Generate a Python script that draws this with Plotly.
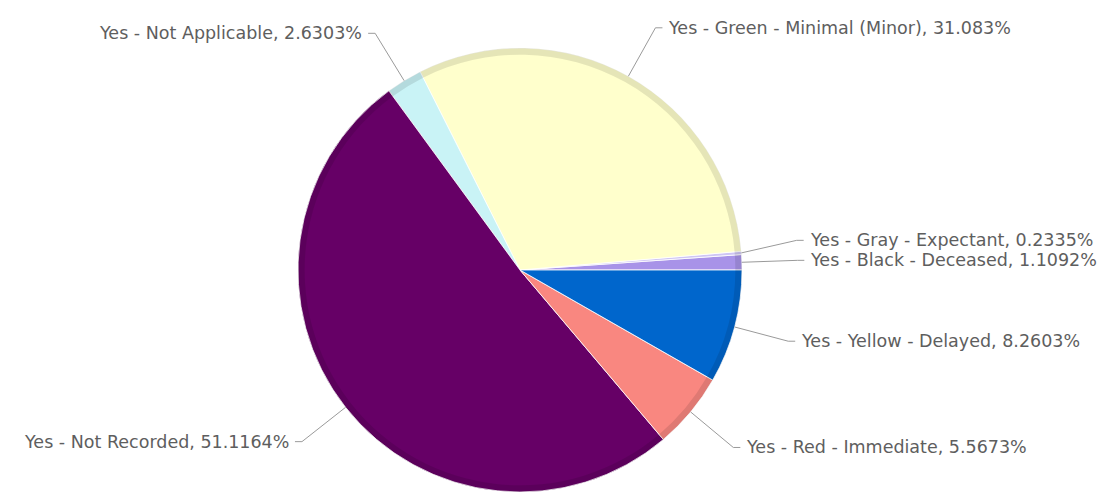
import math
import plotly.graph_objects as go

# ---- data ----
categories = [
    "Yes - Black - Deceased",
    "Yes - Gray - Expectant",
    "Yes - Green - Minimal (Minor)",
    "Yes - Not Applicable",
    "Yes - Not Recorded",
    "Yes - Red - Immediate",
    "Yes - Yellow - Delayed",
]
percent_labels = ["1.1092%", "0.2335%", "31.083%", "2.6303%", "51.1164%", "5.5673%", "8.2603%"]
values = [1.1092, 0.2335, 31.083, 2.6303, 51.1164, 5.5673, 8.2603]

# ---- style ----
colors = ["#A893E8", "#CFC6F4", "#FFFFCC", "#C9F3F6", "#660066", "#F98780", "#0066CC"]
W, H = 1108, 495
CX, CY, R = 520, 270, 222          # pie centre / radius in pixels
START_DEG = 0                      # first slice starts at 3 o'clock, counter-clockwise
ELBOW = 1.25                       # leader elbow radius factor
HSEG = 7                           # horizontal leader segment
GAP = 4
MIN_SEP = 20
FONT = dict(family="DejaVu Sans, Verdana, sans-serif", size=17.5, color="#5e5e5e")
LINE_COLOR = "#9a9a9a"

def px(x):
    return x / W

def py(y):
    return 1 - y / H

total = sum(values)
# plotly's counter-clockwise pies place the first slice clockwise of `rotation`,
# so shift by the first slice's angle to make it start at START_DEG
rot = 90 - START_DEG - values[0] / total * 360
dom = dict(x=[(CX - R) / W, (CX + R) / W], y=[(H - CY - R) / H, (H - CY + R) / H])

fig = go.Figure()
fig.add_trace(go.Pie(
    labels=categories, values=values, sort=False,
    direction="counterclockwise", rotation=rot,
    marker=dict(colors=colors, line=dict(color="rgba(255,255,255,0.8)", width=1)),
    textinfo="none", hoverinfo="label+percent", showlegend=False, domain=dom,
))
# subtle bevel ring
fig.add_trace(go.Pie(
    labels=categories, values=values, sort=False,
    direction="counterclockwise", rotation=rot, hole=0.97,
    marker=dict(colors=["rgba(0,0,0,0.10)"] * len(values), line=dict(width=0)),
    textinfo="none", hoverinfo="skip", showlegend=False, domain=dom,
))

# compute label geometry from the data
items = []
cum = 0.0
for cat, pl, v in zip(categories, percent_labels, values):
    mid = math.radians(START_DEG + (cum + v / 2) / total * 360)
    cum += v
    ex, ey = CX + R * math.cos(mid), CY - R * math.sin(mid)
    bx, by = CX + R * ELBOW * math.cos(mid), CY - R * ELBOW * math.sin(mid)
    items.append(dict(text=f"{cat}, {pl}", ex=ex, ey=ey, bx=bx, by=by,
                      right=math.cos(mid) >= 0))

# simple overlap avoidance on each side (push the upper label up)
for side in (True, False):
    grp = sorted([it for it in items if it["right"] == side], key=lambda d: -d["by"])
    for lower, upper in zip(grp, grp[1:]):
        if lower["by"] - upper["by"] < MIN_SEP:
            upper["by"] = lower["by"] - MIN_SEP

for it in items:
    sgn = 1 if it["right"] else -1
    hx = it["bx"] + sgn * HSEG
    fig.add_shape(type="path",
                  path=f"M {px(it['ex'])},{py(it['ey'])} L {px(it['bx'])},{py(it['by'])} L {px(hx)},{py(it['by'])}",
                  xref="paper", yref="paper", line=dict(color=LINE_COLOR, width=1))
    fig.add_annotation(x=px(hx + sgn * GAP), y=py(it["by"]), xref="paper", yref="paper",
                       text=it["text"], showarrow=False,
                       xanchor="left" if it["right"] else "right", yanchor="middle",
                       font=FONT)

fig.update_layout(width=W, height=H, margin=dict(l=0, r=0, t=0, b=0),
                  paper_bgcolor="white", plot_bgcolor="white")
fig.write_html("out.html")
